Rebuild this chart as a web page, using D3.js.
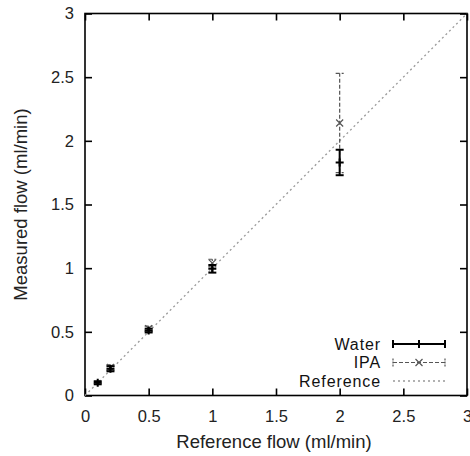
<!DOCTYPE html>
<html><head><meta charset="utf-8">
<script src="https://cdn.jsdelivr.net/npm/d3@7"></script>
<style>body{margin:0;background:#fff;} text{font-family:"Liberation Sans",Arial,sans-serif;}</style>
</head><body><svg id="c" width="470" height="456"></svg>
<script>
const waterX = [0.1, 0.2, 0.5, 1, 2];
const waterY = [0.10, 0.21, 0.51, 0.995, 1.83];
const waterErr = [0.012, 0.02, 0.015, 0.03, 0.10];
const ipaX = [0.2, 0.5, 1, 2];
const ipaY = [0.22, 0.525, 1.04, 2.14];
const ipaErr = [0.02, 0.02, 0.03, 0.39];
const refX = [0, 3];
const xTicks = [0, 0.5, 1, 1.5, 2, 2.5, 3];
const yTicks = [0, 0.5, 1, 1.5, 2, 2.5, 3];
const seriesNames = ["Water", "IPA", "Reference"];

const svg = d3.select("#c");
const L = 85, R = 467, T = 13.5, B = 395.5;
const x = d3.scaleLinear().domain([0, 3]).range([L, R]);
const y = d3.scaleLinear().domain([0, 3]).range([B, T]);
const fmt = d => d3.format("")(d);

const tl = 7;
const tickFont = 16.5;
svg.append("g").attr("transform", `translate(0,${B})`)
  .call(d3.axisBottom(x).tickValues(xTicks).tickSize(-tl).tickPadding(tl + 8).tickFormat(fmt))
  .call(g => { g.select(".domain").remove(); g.selectAll("text").attr("font-size", tickFont).attr("fill", "#222"); g.selectAll("line").attr("stroke", "#000").attr("stroke-width", 1.6); });
svg.append("g").attr("transform", `translate(0,${T})`)
  .call(d3.axisTop(x).tickValues(xTicks).tickSize(-tl).tickFormat(""))
  .call(g => { g.select(".domain").remove(); g.selectAll("line").attr("stroke", "#000").attr("stroke-width", 1.6); });
svg.append("g").attr("transform", `translate(${L},0)`)
  .call(d3.axisLeft(y).tickValues(yTicks).tickSize(-tl).tickPadding(tl + 4).tickFormat(fmt))
  .call(g => { g.select(".domain").remove(); g.selectAll("text").attr("font-size", tickFont).attr("fill", "#222"); g.selectAll("line").attr("stroke", "#000").attr("stroke-width", 1.6); });
svg.append("g").attr("transform", `translate(${R},0)`)
  .call(d3.axisRight(y).tickValues(yTicks).tickSize(-tl).tickFormat(""))
  .call(g => { g.select(".domain").remove(); g.selectAll("line").attr("stroke", "#000").attr("stroke-width", 1.6); });

svg.append("rect").attr("x", L).attr("y", T).attr("width", R - L).attr("height", B - T)
  .attr("fill", "none").attr("stroke", "#000").attr("stroke-width", 1.6);

svg.append("line").attr("x1", x(refX[0])).attr("y1", y(refX[0])).attr("x2", x(refX[1])).attr("y2", y(refX[1]))
  .attr("stroke", "#999").attr("stroke-width", 1.3).attr("stroke-dasharray", "2,3");

const cap = 4;
const ipa = svg.append("g");
ipaX.forEach((xv, i) => {
  const cx = x(xv), y0 = y(ipaY[i] - ipaErr[i]), y1 = y(ipaY[i] + ipaErr[i]), cy = y(ipaY[i]);
  ipa.append("line").attr("x1", cx).attr("x2", cx).attr("y1", y0).attr("y2", y1)
    .attr("stroke", "#555").attr("stroke-width", 1.2).attr("stroke-dasharray", "4,2");
  [y0, y1].forEach(yy => ipa.append("line").attr("x1", cx - cap).attr("x2", cx + cap).attr("y1", yy).attr("y2", yy)
    .attr("stroke", "#555").attr("stroke-width", 1.2).attr("stroke-dasharray", "4,2"));
  ipa.append("path").attr("d", `M${cx-3.5},${cy-3.5}L${cx+3.5},${cy+3.5}M${cx-3.5},${cy+3.5}L${cx+3.5},${cy-3.5}`)
    .attr("stroke", "#555").attr("stroke-width", 1.2);
});
const water = svg.append("g");
waterX.forEach((xv, i) => {
  const cx = x(xv), y0 = y(waterY[i] - waterErr[i]), y1 = y(waterY[i] + waterErr[i]), cy = y(waterY[i]);
  water.append("line").attr("x1", cx).attr("x2", cx).attr("y1", y0).attr("y2", y1).attr("stroke", "#000").attr("stroke-width", 2);
  [y0, y1].forEach(yy => water.append("line").attr("x1", cx - cap).attr("x2", cx + cap).attr("y1", yy).attr("y2", yy)
    .attr("stroke", "#000").attr("stroke-width", 2));
  water.append("path").attr("d", `M${cx-4},${cy}L${cx+4},${cy}M${cx},${cy-4}L${cx},${cy+4}`)
    .attr("stroke", "#000").attr("stroke-width", 2);
});

svg.append("text").attr("x", (L + R) / 2 - 2).attr("y", 448).attr("text-anchor", "middle")
  .attr("font-size", 18.5).attr("fill", "#222").text("Reference flow (ml/min)");
svg.append("text").attr("transform", `translate(27,${(T + B) / 2}) rotate(-90)`).attr("text-anchor", "middle")
  .attr("font-size", 18.5).attr("fill", "#222").text("Measured flow (ml/min)");

const lx0 = 393, lx1 = 445, tx = 381;
const ly = [344, 362.5, 381];
const lg = svg.append("g");
seriesNames.forEach((n, i) => {
  lg.append("text").attr("x", tx).attr("y", ly[i]).attr("dy", "0.35em").attr("text-anchor", "end")
    .attr("font-size", 16).attr("letter-spacing", 0.9).attr("fill", "#111").text(n);
});
lg.append("line").attr("x1", lx0).attr("x2", lx1).attr("y1", ly[0]).attr("y2", ly[0]).attr("stroke", "#000").attr("stroke-width", 2);
[lx0, (lx0 + lx1) / 2, lx1].forEach(xx => lg.append("line").attr("x1", xx).attr("x2", xx).attr("y1", ly[0] - 4).attr("y2", ly[0] + 4).attr("stroke", "#000").attr("stroke-width", 2));
lg.append("line").attr("x1", lx0).attr("x2", lx1).attr("y1", ly[1]).attr("y2", ly[1]).attr("stroke", "#555").attr("stroke-width", 1.2).attr("stroke-dasharray", "4,2");
[lx0, lx1].forEach(xx => lg.append("line").attr("x1", xx).attr("x2", xx).attr("y1", ly[1] - 4).attr("y2", ly[1] + 4).attr("stroke", "#555").attr("stroke-width", 1.2).attr("stroke-dasharray", "2,1"));
{ const cx = (lx0 + lx1) / 2, cy = ly[1];
  lg.append("path").attr("d", `M${cx-3.5},${cy-3.5}L${cx+3.5},${cy+3.5}M${cx-3.5},${cy+3.5}L${cx+3.5},${cy-3.5}`).attr("stroke", "#555").attr("stroke-width", 1.2); }
lg.append("line").attr("x1", lx0).attr("x2", lx1).attr("y1", ly[2]).attr("y2", ly[2]).attr("stroke", "#999").attr("stroke-width", 1.3).attr("stroke-dasharray", "2,3");
</script></body></html>
